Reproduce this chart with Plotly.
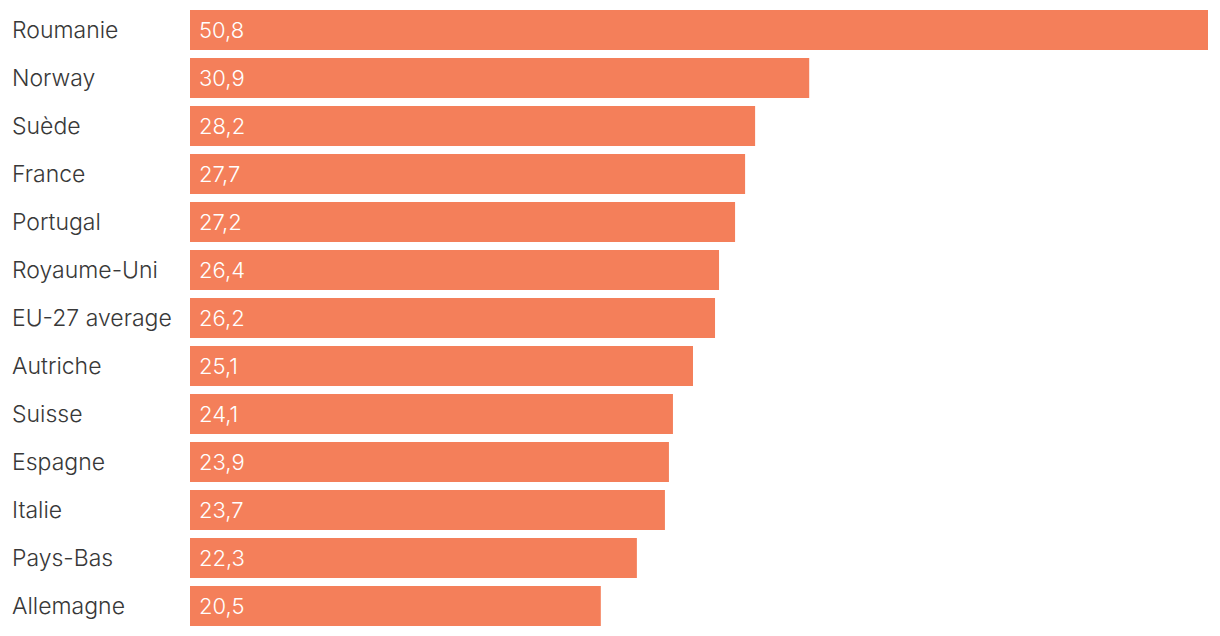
import plotly.graph_objects as go

countries = ["Roumanie", "Norway", "Suède", "France", "Portugal", "Royaume-Uni",
             "EU-27 average", "Autriche", "Suisse", "Espagne", "Italie", "Pays-Bas", "Allemagne"]
values = [50.8, 30.9, 28.2, 27.7, 27.2, 26.4, 26.2, 25.1, 24.1, 23.9, 23.7, 22.3, 20.5]
labels = [f"{v:.1f}".replace(".", ",") for v in values]

W, H = 1220, 636
ml, mr, mt, mb = 182, 20, 0, 8
pw = W - ml - mr
ph = H - mt - mb
slot = 48
r0 = -22 / slot
r1 = r0 + ph / slot

FONT = "Inter"

fig = go.Figure(go.Bar(
    x=values, y=countries, orientation="h",
    marker=dict(color="#F47F5A", line=dict(width=0)),
    hoverinfo="skip",
))

ann = []
for c, lab in zip(countries, labels):
    ann.append(dict(x=0, y=c, xref="x", yref="y", text=lab, showarrow=False,
                    xanchor="left", xshift=7, font=dict(family=FONT, size=22, color="white", weight=300)))
    ann.append(dict(x=-(ml - 2) / pw, y=c, xref="paper", yref="y", text=c, showarrow=False,
                    xanchor="left", font=dict(family=FONT, size=23, color="#383838", weight=300)))

fig.update_layout(
    width=W, height=H,
    margin=dict(l=ml, r=mr, t=mt, b=mb),
    paper_bgcolor="white", plot_bgcolor="white",
    bargap=8 / 48,
    showlegend=False,
    xaxis=dict(range=[0, max(values)], visible=False, fixedrange=True),
    yaxis=dict(range=[r1, r0], showticklabels=False, showgrid=False,
               zeroline=False, showline=False, ticks=""),
    annotations=ann,
)

fig.write_html("out.html")
